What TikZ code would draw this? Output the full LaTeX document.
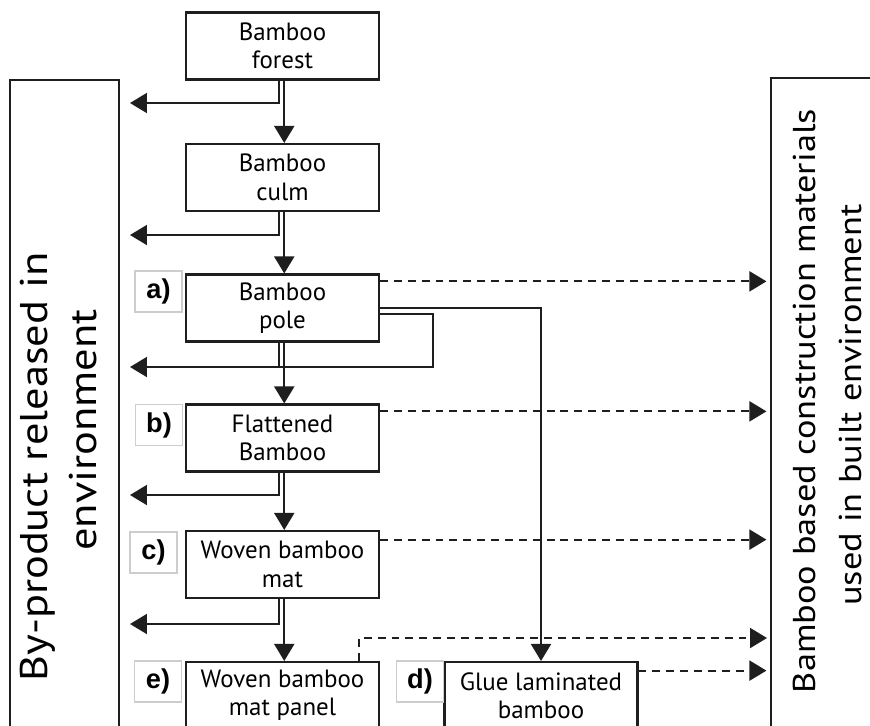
\documentclass[tikz,border=0pt]{standalone}
\usepackage{fontspec}
\setmainfont{PT Sans}
\newfontfamily\sidefont[FakeStretch=1.15]{PT Sans}
\newfontfamily\tagfont{Liberation Sans}
\usetikzlibrary{arrows.meta}
\definecolor{lineGray}{RGB}{30,30,30}
\definecolor{tagGray}{RGB}{205,205,205}
\tikzset{
  stage/.style={draw=lineGray, line width=1.2pt, minimum width=3.86cm, minimum height=1.34cm, inner sep=1pt, align=center, font=\fontsize{14.2}{16.2}\selectfont},
  tag/.style={draw=tagGray, line width=0.6pt, minimum width=0.94cm, minimum height=0.82cm, inner sep=0pt, font=\tagfont\bfseries\fontsize{15.5}{17}\selectfont},
  sidebox/.style={draw=lineGray, line width=1.2pt, inner sep=0pt},
  sideline/.style={rotate=90, anchor=base, inner sep=0pt},
  flow/.style={draw=lineGray, line width=1.1pt, -{Triangle[length=0.34cm,width=0.4cm]}},
  dflow/.style={flow, dash pattern=on 4.5pt off 3.4pt},
}

\begin{document}
\begin{tikzpicture}[x=0.02cm, y=-0.02cm]
\useasboundingbox (0,0) rectangle (870,725);
\clip (0,0) rectangle (870,725);
\fill[white] (0,0) rectangle (870,725);

% side boxes
\node[sidebox, minimum width=2.18cm, minimum height=14cm] (byprod) at (64.5,430) {};
\node[sidebox, minimum width=3.18cm, minimum height=14.04cm] (builtenv) at (850.5,429) {};
\node[sideline, font=\sidefont\fontsize{22}{27}\selectfont] (byprodA) at (48,467) {By-product released in};
\node[sideline, font=\sidefont\fontsize{22}{27}\selectfont] (byprodB) at (96,430) {environment};
\node[sideline, font=\sidefont\fontsize{18}{27}\selectfont] (builtenvA) at (815,401) {Bamboo based construction materials};
\node[sideline, font=\sidefont\fontsize{18}{27}\selectfont] (builtenvB) at (861,405) {used in built environment};

% process stages
\node[stage] (forest) at (282.5,46) {Bamboo\\forest};
\node[stage] (culm) at (282.5,177.5) {Bamboo\\culm};
\node[stage] (pole) at (282.5,308) {Bamboo\\pole};
\node[stage] (flat) at (282.5,438) {Flattened\\Bamboo};
\node[stage] (mat) at (282.5,564.5) {Woven bamboo\\mat};
\node[stage] (panel) at (282.5,695.5) {Woven bamboo\\mat panel};
\node[stage] (glulam) at (541,695.5) {Glue laminated\\bamboo};

% tags
\node[tag] (taga) at (158.5,291.5) {a)};
\node[tag] (tagb) at (159,425) {b)};
\node[tag] (tagc) at (153.5,552.5) {c)};
\node[tag] (tage) at (158,681.5) {e)};
\node[tag] (tagd) at (420,681.5) {d)};

% ends of the by-product arrows
\coordinate (out1) at (130,103);
\coordinate (out2) at (130,235);
\coordinate (out3) at (130,367);
\coordinate (out4) at (130,495);
\coordinate (out5) at (130,624);
\coordinate (loop) at (433,367);
\coordinate (in5) at (767,638);

% main flow
\draw[flow] ([xshift=1pt]forest.south) -- ([xshift=1pt]culm.north);
\draw[flow] ([xshift=1pt]culm.south) -- ([xshift=1pt]pole.north);
\draw[flow] ([xshift=1pt]pole.south) -- ([xshift=1pt]flat.north);
\draw[flow] ([xshift=1pt]flat.south) -- ([xshift=1pt]mat.north);
\draw[flow] ([xshift=1pt]mat.south) -- ([xshift=1pt]panel.north);
\draw[flow] (pole.east) -| (glulam.north);

% by-products
\draw[flow] ([xshift=-2pt]forest.south) |- (out1);
\draw[flow] ([xshift=-2pt]culm.south) |- (out2);
\draw[lineGray, line width=1.1pt] ([xshift=-2pt]pole.south) -- ([xshift=-2pt]pole.south |- out3);
\draw[flow] ([yshift=-3.4pt]pole.east) -| (loop) -- (out3);
\draw[flow] ([xshift=-2pt]flat.south) |- (out4);
\draw[flow] ([xshift=-2pt]mat.south) |- (out5);

% products used in built environment
\draw[dflow, shorten >=2pt] ([yshift=-4.5pt]pole.north east) -- ([yshift=-4.5pt]pole.north east -| builtenv.west);
\draw[dflow, shorten >=2pt] ([yshift=-4.5pt]flat.north east) -- ([yshift=-4.5pt]flat.north east -| builtenv.west);
\draw[dflow, shorten >=2pt] ([yshift=-5.5pt]mat.north east) -- ([yshift=-5.5pt]mat.north east -| builtenv.west);
\draw[dflow] ([xshift=-12pt]panel.north east) |- (in5);
\draw[dflow, shorten >=2pt] ([yshift=-5.5pt]glulam.north east) -- ([yshift=-5.5pt]glulam.north east -| builtenv.west);
\end{tikzpicture}
\end{document}
